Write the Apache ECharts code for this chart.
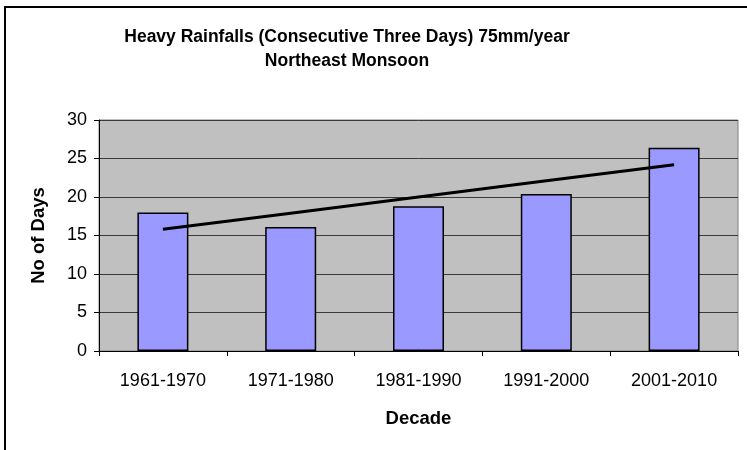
<!DOCTYPE html>
<html>
<head>
<meta charset="utf-8">
<script src="https://cdn.jsdelivr.net/npm/echarts@6/dist/echarts.min.js"></script>
<style>
  html, body { margin: 0; padding: 0; background: #fff; }
  #chart { width: 747px; height: 450px; }
</style>
</head>
<body>
<div id="chart"></div>
<script>
const decades = ['1961-1970', '1971-1980', '1981-1990', '1991-2000', '2001-2010']
const days = [18, 16.1, 18.8, 20.4, 26.4]
// linear trend at each decade
const trend = [15.8, 17.9, 20.0, 22.1, 24.2]
const yTicks = [0, 5, 10, 15, 20, 25, 30]

const font = 'Arial, "Liberation Sans", sans-serif'

const chart = echarts.init(document.getElementById('chart'))
chart.setOption({
  animation: false,
  title: {
    text: 'Heavy Rainfalls (Consecutive Three Days) 75mm/year\nNortheast Monsoon',
    left: 342,
    top: 20,
    textAlign: 'center',
    textStyle: {
      fontFamily: font,
      fontSize: 17.5,
      fontWeight: 'bold',
      color: '#000',
      lineHeight: 24,
    },
  },
  grid: {
    left: 99,
    right: 9,
    top: 120,
    bottom: 99,
    show: true,
    backgroundColor: '#c0c0c0',
    borderColor: '#808080',
    borderWidth: 1,
  },
  xAxis: {
    type: 'category',
    data: decades,
    name: 'Decade',
    nameLocation: 'middle',
    nameGap: 58,
    nameTextStyle: { fontFamily: font, fontSize: 18.5, fontWeight: 'bold', color: '#000' },
    axisLine: { lineStyle: { color: '#000', width: 1 } },
    axisTick: { show: true, length: 5, lineStyle: { color: '#000' } },
    axisLabel: { fontFamily: font, fontSize: 18, color: '#000', margin: 21 },
  },
  yAxis: {
    type: 'value',
    min: 0,
    max: 30,
    interval: 5,
    name: 'No of Days',
    nameLocation: 'middle',
    nameGap: 51,
    nameTextStyle: { fontFamily: font, fontSize: 18.5, fontWeight: 'bold', color: '#000' },
    axisLine: { show: true, lineStyle: { color: '#000', width: 1 } },
    axisTick: { show: true, length: 5, lineStyle: { color: '#000' } },
    axisLabel: {
      fontFamily: font,
      fontSize: 18,
      color: '#000',
      margin: 12,
      formatter: (v) => (yTicks.includes(v) ? String(v) : ''),
    },
    splitLine: { lineStyle: { color: '#3a3a3a', width: 1 } },
  },
  series: [
    {
      type: 'bar',
      data: days,
      barWidth: 51,
      itemStyle: { color: '#9999ff', borderColor: '#000', borderWidth: 1.5 },
      z: 2,
    },
    {
      type: 'line',
      data: trend,
      symbol: 'none',
      lineStyle: { color: '#000', width: 3 },
      z: 3,
    },
  ],
  graphic: [
    { type: 'line', shape: { x1: 4, y1: 7, x2: 747, y2: 7 }, style: { stroke: '#000', lineWidth: 2 } },
    { type: 'line', shape: { x1: 5, y1: 6, x2: 5, y2: 450 }, style: { stroke: '#000', lineWidth: 2 } },
  ],
})
</script>
</body>
</html>
